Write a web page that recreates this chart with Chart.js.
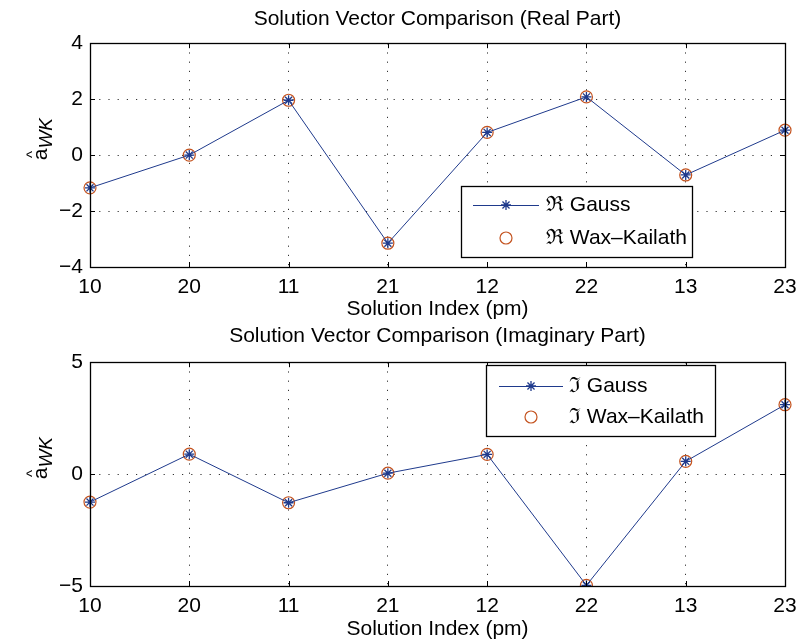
<!DOCTYPE html>
<html>
<head>
<meta charset="utf-8">
<script src="https://cdn.jsdelivr.net/npm/chart.js@4/dist/chart.umd.min.js"></script>
<style>
  html, body { margin: 0; padding: 0; background: #fff; }
  .wrap { position: absolute; left: 0; width: 798px; height: 322px; }
</style>
</head>
<body>
<div class="wrap" style="top:0"><canvas id="real_chart"></canvas></div>
<div class="wrap" style="top:322px"><canvas id="imag_chart"></canvas></div>
<script>
// solution index order on the x axis
var categories = ["10", "20", "11", "21", "12", "22", "13", "23"];

// real part
var realGauss      = [-1.17, 0.00, 1.96, -3.15, 0.81, 2.08, -0.71, 0.89];
var realWaxKailath = [-1.17, 0.00, 1.96, -3.15, 0.81, 2.08, -0.71, 0.89];
var realTicks = [-4, -2, 0, 2, 4];

// imaginary part
var imagGauss      = [-1.25, 0.89, -1.28, 0.04, 0.88, -4.97, 0.57, 3.10];
var imagWaxKailath = [-1.25, 0.89, -1.28, 0.04, 0.88, -4.97, 0.57, 3.10];
var imagTicks = [-5, 0, 5];

var FONT = '"Liberation Sans", Arial, Helvetica, sans-serif';
var FSIZE = 21;
var BLUE = "#1f3a8c";
var ORANGE = "#c4531f";

Chart.defaults.font.family = FONT;
Chart.defaults.font.size = FSIZE;
Chart.defaults.color = "#000";

function minusSign(v) {
  return String(v).replace("-", "\u2212");
}

// box round the plot area with little inward ticks, like matlab
var boxPlugin = {
  id: "box",
  afterDatasetsDraw: function(chart) {
    var a = chart.chartArea, ctx = chart.ctx;
    var x = chart.scales.x, y = chart.scales.y;
    ctx.save();
    ctx.strokeStyle = "#000";
    ctx.lineWidth = 1;
    ctx.beginPath();
    x.ticks.forEach(function(t, i) {
      var px = Math.round(x.getPixelForTick(i)) + 0.5;
      ctx.moveTo(px, a.bottom); ctx.lineTo(px, a.bottom - 5);
      ctx.moveTo(px, a.top); ctx.lineTo(px, a.top + 5);
    });
    y.ticks.forEach(function(t, i) {
      var py = Math.round(y.getPixelForTick(i)) + 0.5;
      ctx.moveTo(a.left, py); ctx.lineTo(a.left + 5, py);
      ctx.moveTo(a.right, py); ctx.lineTo(a.right - 5, py);
    });
    ctx.stroke();
    ctx.lineWidth = 1.3;
    ctx.strokeRect(Math.round(a.left) + 0.5, Math.round(a.top) + 0.5,
                   Math.round(a.right - a.left), Math.round(a.bottom - a.top));
    ctx.restore();
  }
};

// rotated y label: a with a hat and subscript WK
var yLabelPlugin = {
  id: "yLabel",
  afterDraw: function(chart, args, opts) {
    var ctx = chart.ctx, a = chart.chartArea;
    ctx.save();
    ctx.translate(opts.x, (a.top + a.bottom) / 2 - 16);
    ctx.rotate(-Math.PI / 2);
    ctx.fillStyle = "#000";
    ctx.textBaseline = "alphabetic";
    ctx.textAlign = "left";
    ctx.font = FSIZE + "px " + FONT;
    var wA = ctx.measureText("a").width;
    ctx.font = "italic 19px " + FONT;
    var wSub = ctx.measureText("WK").width;
    var start = -(wA + wSub) / 2;
    ctx.font = FSIZE + "px " + FONT;
    ctx.fillText("a", start, 0);
    ctx.font = "15px " + FONT;
    var wHat = ctx.measureText("^").width;
    ctx.fillText("^", start + (wA - wHat) / 2, -10);
    ctx.font = "italic 19px " + FONT;
    ctx.fillText("WK", start + wA, 5);
    ctx.restore();
  }
};

// legend drawn inside the axes with a frame
var boxLegendPlugin = {
  id: "boxLegend",
  afterDraw: function(chart, args, opts) {
    var ctx = chart.ctx, b = opts.box;
    ctx.save();
    ctx.fillStyle = "#fff";
    ctx.fillRect(b[0], b[1], b[2] - b[0], b[3] - b[1]);
    ctx.strokeStyle = "#000";
    ctx.lineWidth = 1.3;
    ctx.strokeRect(b[0] + 0.5, b[1] + 0.5, b[2] - b[0], b[3] - b[1]);
    chart.data.datasets.forEach(function(ds, i) {
      var ry = opts.rows[i];
      var mx = (opts.line[0] + opts.line[1]) / 2;
      if (ds.showLine !== false) {
        ctx.strokeStyle = ds.borderColor;
        ctx.lineWidth = 1;
        ctx.beginPath();
        ctx.moveTo(opts.line[0], ry + 0.5);
        ctx.lineTo(opts.line[1], ry + 0.5);
        ctx.stroke();
      }
      ctx.strokeStyle = ds.pointBorderColor;
      ctx.lineWidth = ds.pointBorderWidth;
      ctx.beginPath();
      if (ds.pointStyle === "star") {
        var r = ds.pointRadius;
        for (var k = 0; k < 4; k++) {
          var ang = k * Math.PI / 4;
          ctx.moveTo(mx - r * Math.cos(ang), ry - r * Math.sin(ang));
          ctx.lineTo(mx + r * Math.cos(ang), ry + r * Math.sin(ang));
        }
      } else {
        ctx.arc(mx, ry, ds.pointRadius, 0, Math.PI * 2);
      }
      ctx.stroke();
      ctx.fillStyle = "#000";
      ctx.font = FSIZE + "px " + FONT;
      ctx.textBaseline = "middle";
      ctx.textAlign = "left";
      ctx.fillText(ds.label, opts.textX, ry);
    });
    ctx.restore();
  }
};

function makeChart(id, title, symbol, gauss, wax, ticks, lim, layout) {
  return new Chart(id, {
    type: "line",
    data: {
      labels: categories,
      datasets: [{
        label: symbol + " Gauss",
        data: gauss,
        borderColor: BLUE,
        borderWidth: 1,
        pointStyle: "star",
        pointRadius: 5,
        pointBorderColor: BLUE,
        pointBorderWidth: 1.3,
        pointBackgroundColor: BLUE,
        tension: 0
      }, {
        label: symbol + " Wax\u2013Kailath",
        data: wax,
        showLine: false,
        borderColor: ORANGE,
        pointStyle: "circle",
        pointRadius: 6,
        pointBorderColor: ORANGE,
        pointBorderWidth: 1.2,
        pointBackgroundColor: "rgba(0,0,0,0)"
      }]
    },
    options: {
      responsive: false,
      animation: false,
      events: [],
      layout: { padding: { left: 0, right: 13, top: 0, bottom: 0 } },
      plugins: {
        legend: { display: false },
        tooltip: { enabled: false },
        title: {
          display: true,
          fullSize: false,
          text: title,
          color: "#000",
          font: { size: FSIZE, weight: "normal" },
          padding: layout.titlePad
        },
        yLabel: { x: 47 },
        boxLegend: layout.legend
      },
      scales: {
        x: {
          type: "category",
          offset: false,
          grid: { color: "#333", lineWidth: 1, drawTicks: false },
          border: { display: false, dash: [1.2, 8] },
          ticks: { padding: 8, maxRotation: 0, autoSkip: false },
          title: { display: true, text: "Solution Index (pm)", font: { size: FSIZE },
                   padding: { top: 0, bottom: layout.xTitleBottom } },
          afterFit: function(s) {
            s.height = layout.xHeight;
            s.paddingLeft = 0;
            s.paddingRight = 0;
          }
        },
        y: {
          min: lim[0],
          max: lim[1],
          grid: { color: "#333", lineWidth: 1, drawTicks: false },
          border: { display: false, dash: [1.2, 8] },
          ticks: { padding: 7, callback: function(v) { return minusSign(v); } },
          afterBuildTicks: function(s) {
            s.ticks = ticks.map(function(v) { return { value: v }; });
          },
          afterFit: function(s) {
            s.width = 90;
            s.paddingTop = 0;
            s.paddingBottom = 0;
          }
        }
      }
    },
    plugins: [boxPlugin, yLabelPlugin, boxLegendPlugin]
  });
}

function sizeCanvas(id) {
  var c = document.getElementById(id);
  c.width = 798; c.height = 322;
  c.style.width = "798px"; c.style.height = "322px";
}
sizeCanvas("real_chart");
sizeCanvas("imag_chart");

makeChart("real_chart", "Solution Vector Comparison (Real Part)", "\u211C",
  realGauss, realWaxKailath, realTicks, [-4, 4], {
    titlePad: { top: 7, bottom: 11 },
    xHeight: 55,
    xTitleBottom: 0,
    legend: { box: [461, 186, 692, 257], rows: [205, 238], line: [473, 539], textX: 546 }
  });

makeChart("imag_chart", "Solution Vector Comparison (Imaginary Part)", "\u2111",
  imagGauss, imagWaxKailath, imagTicks, [-5, 5], {
    titlePad: { top: 2, bottom: 13 },
    xHeight: 58,
    xTitleBottom: 2,
    legend: { box: [486, 43, 715, 114], rows: [64, 95], line: [499, 563], textX: 569 }
  });
</script>
</body>
</html>
